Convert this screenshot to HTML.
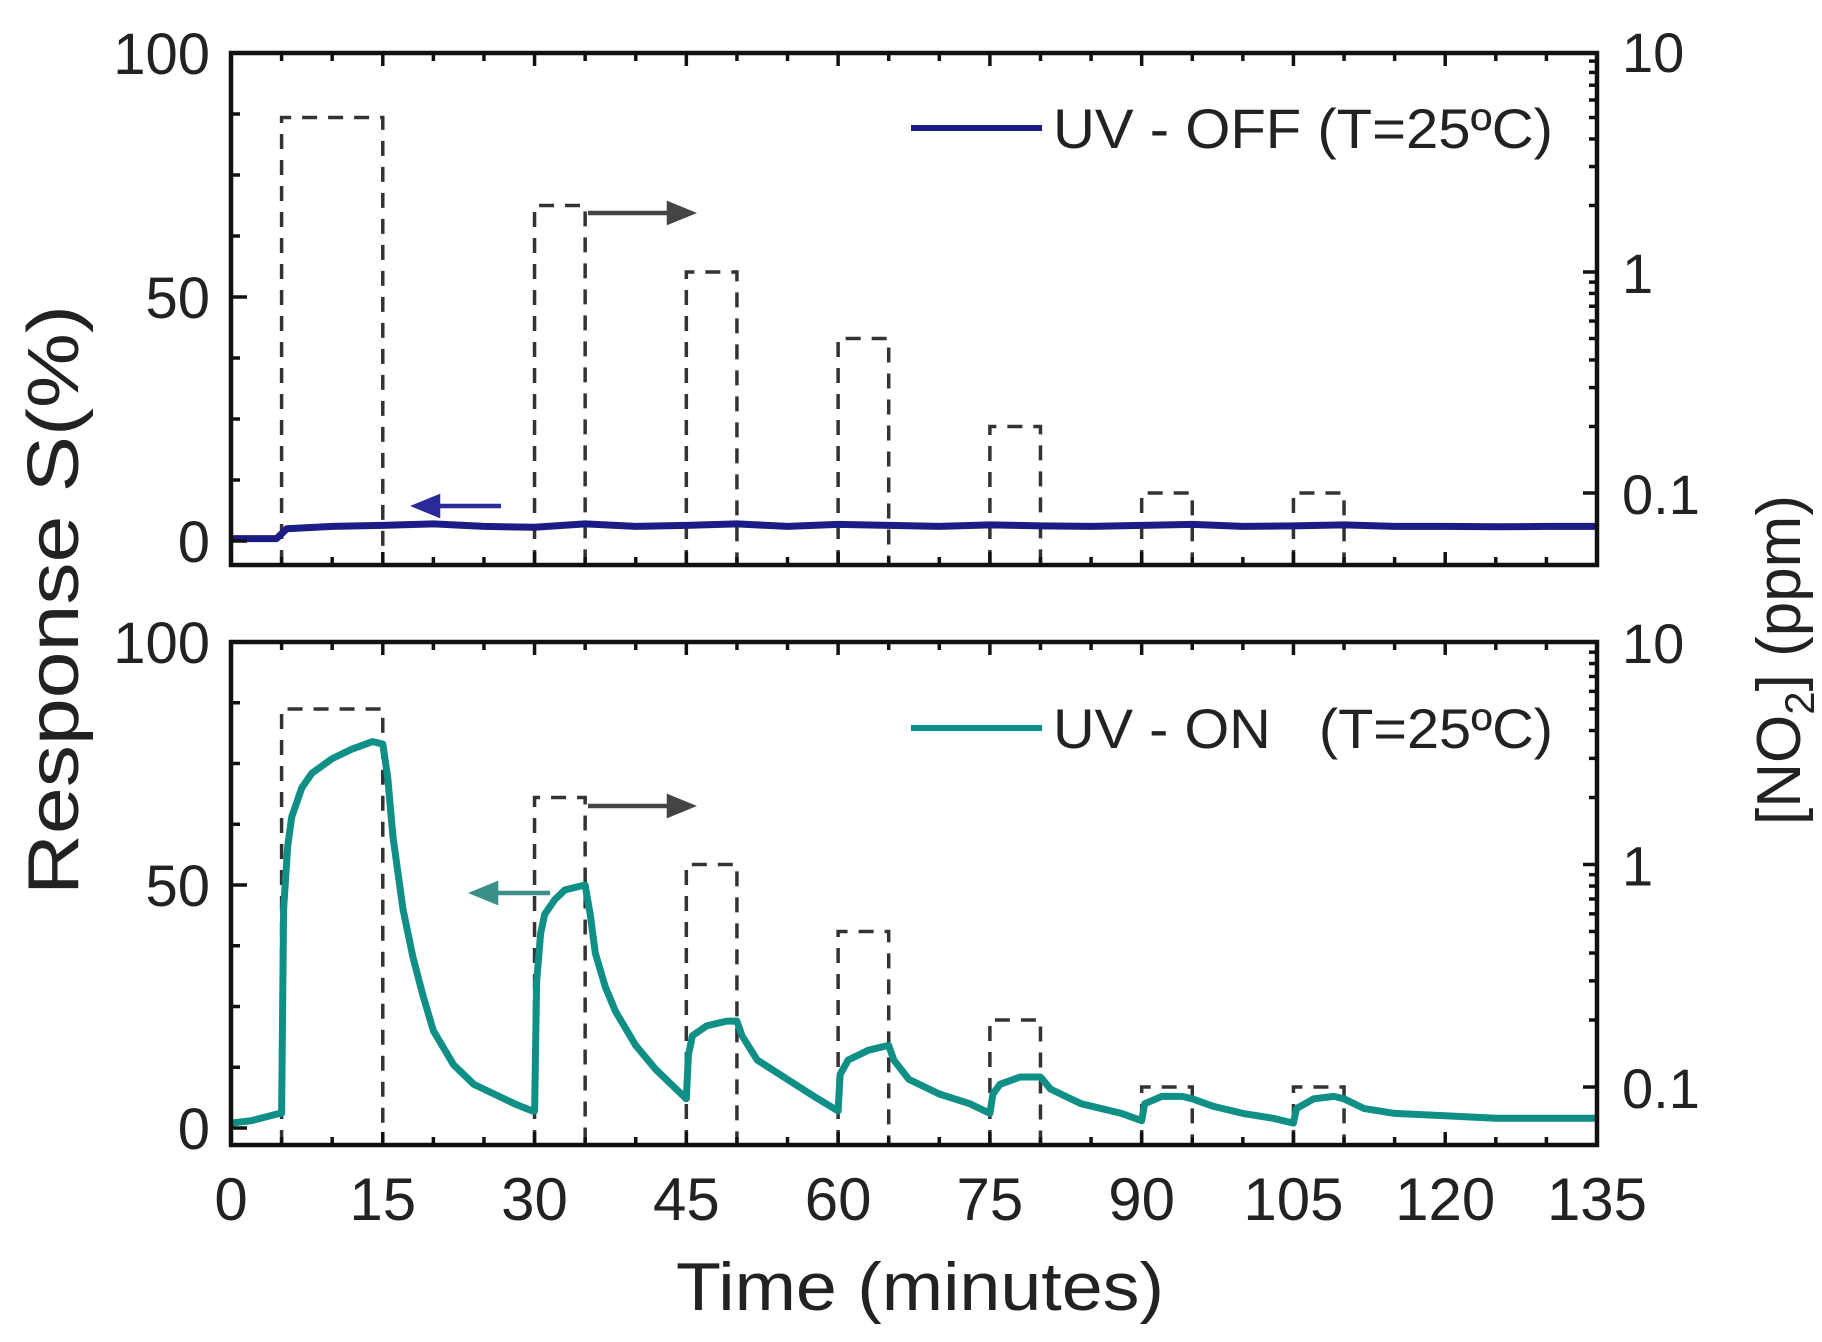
<!DOCTYPE html>
<html><head><meta charset="utf-8"><style>
html,body{margin:0;padding:0;background:#fff}
svg{display:block;font-family:"Liberation Sans",sans-serif}
</style></head><body>
<svg id="chart" width="1822" height="1342" viewBox="0 0 1822 1342" xmlns="http://www.w3.org/2000/svg">
<g id="g"></g>
<text x="0" y="0" font-size="72" text-anchor="middle" transform="translate(78,600) rotate(-90)" textLength="590" lengthAdjust="spacingAndGlyphs" fill="#222">Response S(%)</text>
<text x="920" y="1310" font-size="68" text-anchor="middle" textLength="488" lengthAdjust="spacingAndGlyphs" fill="#222">Time (minutes)</text>
<text x="0" y="0" font-size="62" text-anchor="middle" transform="translate(1800,660) rotate(-90)" fill="#222">[NO<tspan font-size="42" dy="14">2</tspan><tspan dy="-14">] (ppm)</tspan></text>
<line x1="911" y1="128" x2="1042" y2="128" stroke="#1c1c86" stroke-width="6"/>
<text x="1053" y="148" font-size="56" textLength="500" lengthAdjust="spacingAndGlyphs" fill="#222">UV - OFF (T=25ºC)</text>
<line x1="911" y1="728" x2="1042" y2="728" stroke="#0f8f86" stroke-width="6"/>
<text x="1053" y="748" font-size="56" textLength="500" lengthAdjust="spacingAndGlyphs" xml:space="preserve" fill="#222">UV - ON   (T=25ºC)</text>
</svg>
<script>
const times=[0,15,30,45,60,75,90,105,120,135];
const yTicks=[0,50,100];
const rTicks=[0.1,1,10];
const pulseStart=[5,30,45,60,75,90,105];
const pulseEnd=[15,35,50,65,80,95,110];
const pulseConc=[5,2,1,0.5,0.2,0.1,0.1];
const onT=[0,2,4.8,5,5.2,5.6,6,7,8,10,12,14,15,15.5,16,17,18,19,20,22,24,26,28,29.8,30,30.2,30.6,31,32,33,35,35.5,36,37,38,40,42,44,45,45.2,45.6,47,49,50,50.5,52,55,58,60,60.2,61,63,65,65.5,67,70,73,75,75.3,76,78,80,81,84,88,90,90.3,92,94,95,97,100,103,105,105.3,107,109,110,112,115,120,125,130,135];
const onV=[1,1.5,3,3,45,58,64,70,73,76,78,79.5,79,72,60,45,35,27,20,13,9,7,5,3.5,3.5,30,40,44,47,49,50,44,36,29,24,17,12,8,6,15,19,21,22,22,19,14,10,6,3.5,11,14,16,17,14,10,7,5,3,7,9,10.5,10.5,8,5,3,1.5,5,6.5,6.5,6,4.5,3,2,1,4,6,6.5,6,4,3,2.5,2,2,2];
const offT=[0,4.5,5.5,10,15,20,25,30,35,40,45,50,55,60,65,70,75,80,85,90,95,100,105,110,115,120,125,130,135];
const offV=[0.5,0.5,2.5,3,3.2,3.5,3,2.8,3.5,3,3.2,3.5,3,3.4,3.2,3,3.3,3.1,3,3.2,3.4,3,3.1,3.3,3,3,2.9,3,3];

const NS="http://www.w3.org/2000/svg";
const g=document.getElementById('g');
const X0=231,X1=1597;
const xs=t=>X0+t*(X1-X0)/135;
const panels=[
 {top:53,bot:565,y0:541,y100:53,l10:51,l01:493,name:'top'},
 {top:642,bot:1145,y0:1128,y100:642,l10:642,l01:1087,name:'bottom'}];
function el(tag,attrs){const e=document.createElementNS(NS,tag);for(const k in attrs)e.setAttribute(k,attrs[k]);g.appendChild(e);return e;}
function pathD(T,V,ys){return T.map((t,i)=>(i?'L':'M')+xs(t).toFixed(1)+','+ys(V[i]).toFixed(1)).join(' ');}
panels.forEach((p,pi)=>{
 const ys=v=>p.y0+(p.y100-p.y0)*v/100;
 const yl=c=>p.l10+(1-Math.log10(c))*(p.l01-p.l10)/2;
 pulseStart.forEach((s,i)=>{
  const e=el('path',{d:`M${xs(s)},${p.bot} L${xs(s)},${yl(pulseConc[i])} L${xs(pulseEnd[i])},${yl(pulseConc[i])} L${xs(pulseEnd[i])},${p.bot}`,fill:'none',stroke:'#333','stroke-width':3.5,'stroke-dasharray':'15,11'});
  
  
 });
 const s=el('path',{d:pi?pathD(onT,onV,ys):pathD(offT,offV,ys),fill:'none',stroke:pi?'#0f8f86':'#1c1c86','stroke-width':7,'stroke-linejoin':'round'});
 
 
 const f=el('rect',{x:X0,y:p.top,width:X1-X0,height:p.bot-p.top,fill:'none',stroke:'#111','stroke-width':4.5});
 
 
 for(let t=0;t<=135;t+=5){const L=t%15===0?13:8;
  const a=el('line',{x1:xs(t),x2:xs(t),y1:p.bot,y2:p.bot-L,stroke:'#111','stroke-width':3.5});
  
  
  const b=el('line',{x1:xs(t),x2:xs(t),y1:p.top,y2:p.top+L,stroke:'#111','stroke-width':3.5});
  
  }
 for(let v=0;v<=100;v+=12.5){const L=v%50===0?16:9;
  const a=el('line',{x1:X0,x2:X0+L,y1:ys(v),y2:ys(v),stroke:'#111','stroke-width':3.5});
  
  }
 yTicks.forEach(v=>{const t=el('text',{x:210,y:ys(v)+21,'font-size':58,'text-anchor':'end',fill:'#222'});t.textContent=v;
  
  });
 [0.1,1].forEach(d=>{for(let m=1;m<=9;m++){const c=d*m;const L=m===1?14:8;
  const a=el('line',{x1:X1,x2:X1-L,y1:yl(c),y2:yl(c),stroke:'#111','stroke-width':3.5});
  
  }});
 rTicks.forEach(c=>{const t=el('text',{x:1622,y:yl(c)+21,'font-size':56,fill:'#222'});t.textContent=c;
  
  });
 const ar=(x1,x2,y,col,nm)=>{const dir=Math.sign(x2-x1);
  const a=el('path',{d:`M${x1},${y} L${x2-dir*14},${y} M${x2},${y} L${x2-dir*22},${y-9} L${x2-dir*22},${y+9} Z`,stroke:col,fill:col,'stroke-width':4.5});
  
  };
 if(pi===0){ar(588,691,213,'#444','arrow-right-axis-top');ar(501,416,506,'#2a2a9a','arrow-left-axis-top');}
 else{ar(588,691,806,'#444','arrow-right-axis-bottom');ar(550,474,893,'#3a8f88','arrow-left-axis-bottom');}
});
times.forEach(t=>{const e=el('text',{x:xs(t),y:1220,'font-size':60,'text-anchor':'middle',fill:'#222'});e.textContent=t;
 
 });
</script>
</body></html>
